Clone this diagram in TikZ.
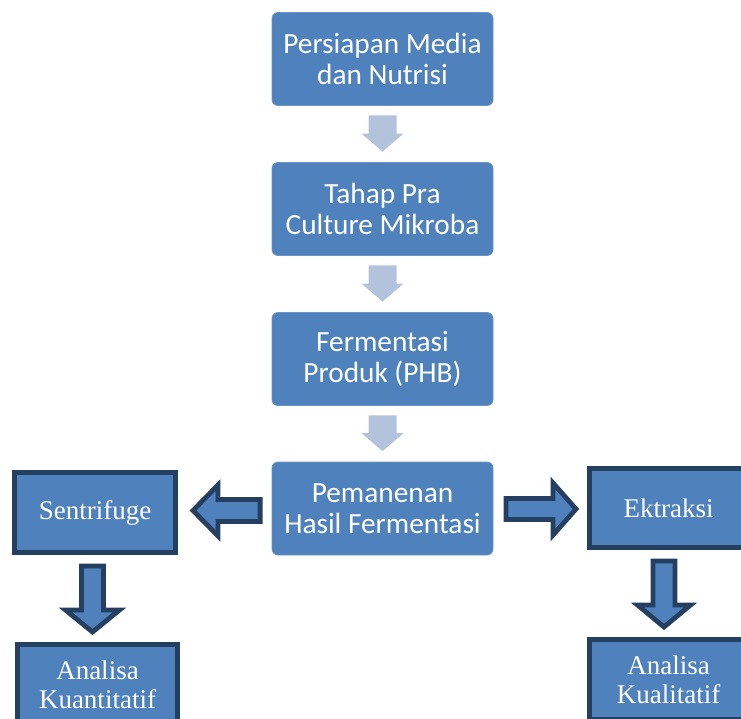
\documentclass[tikz,border=0pt]{standalone}
\usepackage{fontspec}
\setmainfont{Liberation Serif}
\newfontfamily\calib{Carlito}
\usetikzlibrary{calc}
\definecolor{boxblue}{HTML}{4F81BD}
\definecolor{navy}{HTML}{243F60}
\definecolor{lightarr}{HTML}{B4C3DC}
\newcommand{\blockarr}[6]{%
  \path ($(#3)!#6!(#2)$) coordinate (hb);
  \path[#1] ($(#2)!#4!90:(#3)$) -- ($(hb)!#4!-90:(#2)$) -- ($(hb)!#5!-90:(#2)$) -- (#3)
    -- ($(hb)!#5!90:(#2)$) -- ($(hb)!#4!90:(#2)$) -- ($(#2)!#4!-90:(#3)$) -- cycle;}
\tikzset{
  stagebox/.style={rectangle, rounded corners=6pt, fill=boxblue, draw=boxblue!85!white, line width=0.8pt,
    minimum width=221pt, minimum height=93pt, text=white, align=center,
    font=\calib\fontsize{29.3}{31}\selectfont, inner sep=0pt},
  outbox/.style={rectangle, fill=boxblue, draw=navy, line width=5pt, text=white, align=center,
    font=\fontsize{27}{29}\selectfont, inner sep=0pt},
  lightarrow/.style={fill=lightarr},
  darkarrow/.style={fill=boxblue, draw=navy, line width=4.8pt, line join=miter}
}
\begin{document}
\begin{tikzpicture}[x=1pt,y=-1pt]
\useasboundingbox (0,0) rectangle (741,718);
\clip (0,0) rectangle (741,718);
\node[stagebox] (b1) at (382.5,59) {Persiapan Media\\dan Nutrisi};
\node[stagebox] (b2) at (382.5,209) {Tahap Pra\\Culture Mikroba};
\node[stagebox] (b3) at (382.5,359) {Fermentasi\\Produk (PHB)};
\node[stagebox] (b4) at (382.5,508.5) {Pemanenan\\Hasil Fermentasi};
\node[outbox, minimum width=161pt, minimum height=80pt] (sen) at (95,512.5) {Sentrifuge};
\node[outbox, minimum width=158pt, minimum height=79pt] (ekt) at (668.5,508) {Ektraksi};
\node[outbox, minimum width=160pt, minimum height=80pt] (ana1) at (97.5,684.5) {Analisa\\Kuantitatif};
\node[outbox, minimum width=158pt, minimum height=80pt] (ana2) at (668.5,679.5) {Analisa\\Kualitatif};
% light arrows
\coordinate (a1s) at ($(b1.south)+(0,9.5)$);
\coordinate (a1e) at ($(b2.north)+(0,-10.5)$);
\blockarr{lightarrow}{a1s}{a1e}{14pt}{21pt}{18pt}
\coordinate (a2s) at ($(b2.south)+(0,9.5)$);
\coordinate (a2e) at ($(b3.north)+(0,-10.5)$);
\blockarr{lightarrow}{a2s}{a2e}{14pt}{21pt}{18pt}
\coordinate (a3s) at ($(b3.south)+(0,9.5)$);
\coordinate (a3e) at ($(b4.north)+(0,-10.5)$);
\blockarr{lightarrow}{a3s}{a3e}{14pt}{21pt}{18pt}
% dark arrows
\coordinate (l1s) at ($(b4.west)+(-11.5,2)$);
\coordinate (l1e) at ($(sen.east)+(15,-2)$);
\blockarr{darkarrow}{l1s}{l1e}{11pt}{25.5pt}{25pt}
\coordinate (r1s) at ($(b4.east)+(12.5,0.5)$);
\coordinate (r1e) at ($(ekt.west)+(-11,1)$);
\blockarr{darkarrow}{r1s}{r1e}{10.5pt}{26pt}{23pt}
\coordinate (d1s) at ($(sen.south)+(-2.5,11)$);
\coordinate (d1e) at ($(ana1.north)+(-5,-10)$);
\blockarr{darkarrow}{d1s}{d1e}{11pt}{27pt}{22pt}
\coordinate (d2s) at ($(ekt.south)+(-4.5,11)$);
\coordinate (d2e) at ($(ana2.north)+(-4.5,-10)$);
\blockarr{darkarrow}{d2s}{d2e}{11pt}{26.5pt}{22pt}
\end{tikzpicture}
\end{document}
